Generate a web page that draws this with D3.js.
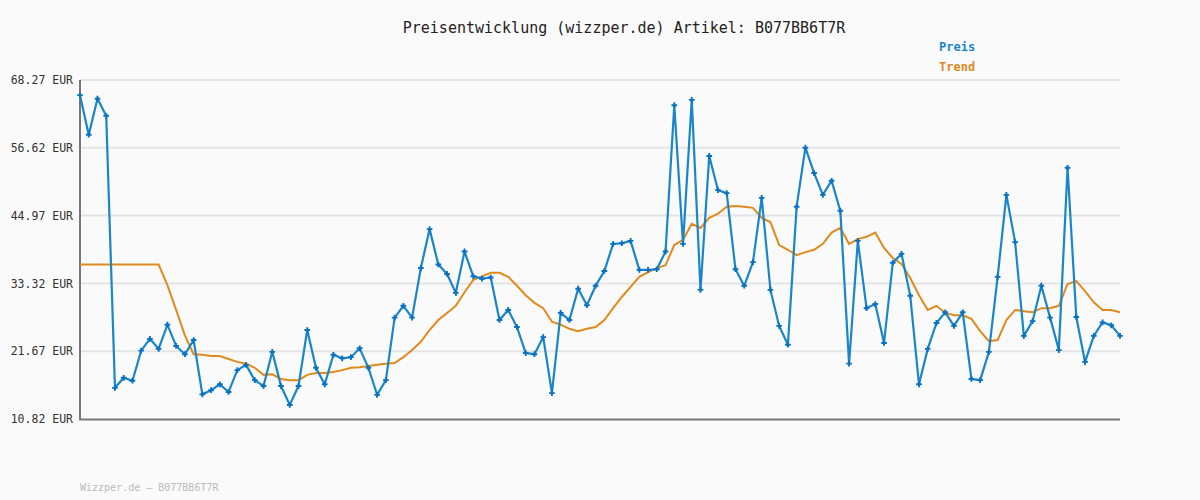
<!DOCTYPE html>
<html><head><meta charset="utf-8">
<script src="https://cdn.jsdelivr.net/npm/d3@7"></script>
<style>body{margin:0;background:#fafafa}svg{display:block}</style></head>
<body><svg id="c" width="1200" height="500"></svg>
<script>
const yTicks = [10.82, 22.31, 33.8, 45.29, 56.78, 68.27];
const yTickLabels = ["10.82 EUR","21.67 EUR","33.32 EUR","44.97 EUR","56.62 EUR","68.27 EUR"];
const preis = [65.7,59.0,65.1,62.2,16.1,17.8,17.3,22.4,24.4,22.7,26.8,23.2,21.8,24.2,15.0,15.7,16.7,15.4,19.1,20.0,
17.4,16.4,22.2,16.4,13.2,16.4,25.9,19.5,16.7,21.7,21.1,21.3,22.8,19.5,14.9,17.4,28.0,30.0,28.0,36.4,
43.0,37.0,35.4,32.2,39.2,35.0,34.6,34.8,27.6,29.3,26.4,22.0,21.8,24.7,15.2,28.8,27.6,32.9,30.1,33.4,
35.9,40.5,40.6,41.0,36.1,36.1,36.2,39.2,64.0,40.5,64.9,32.7,55.4,49.6,49.1,36.2,33.4,37.4,48.3,32.7,
26.6,23.4,46.8,56.8,52.5,48.8,51.2,46.1,20.2,41.0,29.6,30.3,23.7,37.3,38.8,31.7,16.7,22.7,27.1,28.9,
26.6,28.9,17.6,17.4,22.2,34.9,48.8,40.8,24.9,27.4,33.4,28.0,22.5,53.4,28.1,20.5,24.9,27.2,26.7,24.9];
const trend = [37.0,37.0,37.0,37.0,37.0,37.0,37.0,37.0,37.0,37.0,
33.5,29.3,25.0,21.8,21.7,21.5,21.5,21.0,20.5,20.2,
19.5,18.3,18.4,17.6,17.4,17.4,18.3,18.6,18.6,18.8,
19.1,19.5,19.6,19.8,20.0,20.2,20.3,21.3,22.5,23.9,
25.9,27.6,28.8,30.0,32.3,34.4,35.0,35.6,35.6,34.9,
33.4,31.8,30.5,29.6,27.3,26.8,26.1,25.7,26.1,26.4,
27.6,29.6,31.5,33.2,34.9,35.7,36.4,36.9,40.3,41.2,
43.9,43.2,44.9,45.6,46.8,46.9,46.8,46.6,44.9,44.2,
40.3,39.5,38.6,39.1,39.5,40.5,42.4,43.2,40.5,41.3,
41.7,42.4,39.8,38.1,37.1,34.7,31.8,29.3,30.0,28.8,
28.4,28.4,27.8,25.7,24.0,24.2,27.6,29.3,29.1,28.9,
29.6,29.6,30.0,33.7,34.2,32.5,30.6,29.3,29.3,28.9];

const svg = d3.select("#c");
const font = "'DejaVu Sans Mono', monospace";
svg.append("rect").attr("width",1200).attr("height",500).attr("fill","#fafafa");
const x = d3.scaleLinear().domain([0, preis.length-1]).range([80,1120]);
const y = d3.scaleLinear().domain([10.82,68.27]).range([419,80]);

svg.append("g").selectAll("line").data(yTicks.slice(1)).join("line")
  .attr("x1",80).attr("x2",1120).attr("y1",d=>y(d)).attr("y2",d=>y(d))
  .attr("stroke","#e4e4e4").attr("stroke-width",2);

const ax = d3.axisLeft(y).tickValues(yTicks).tickFormat((d,i)=>yTickLabels[i]).tickSize(0).tickPadding(7);
const g = svg.append("g").attr("transform","translate(80,0)").call(ax);
g.select(".domain").remove();
g.selectAll("text").attr("font-family",font).attr("font-size",11.5).attr("fill","#333");

svg.append("line").attr("x1",80).attr("x2",80).attr("y1",80).attr("y2",420).attr("stroke","#777").attr("stroke-width",2);
svg.append("line").attr("x1",79).attr("x2",1120).attr("y1",419.5).attr("y2",419.5).attr("stroke","#777").attr("stroke-width",2);

const line = d3.line().x((d,i)=>x(i)).y(d=>y(d));
svg.append("path").datum(trend).attr("d",line).attr("fill","none").attr("stroke","#e08a1e").attr("stroke-width",2);
svg.append("path").datum(preis).attr("d",line).attr("fill","none").attr("stroke","#1a86c8").attr("stroke-width",2.2);
svg.append("g").selectAll("path").data(preis).join("path")
  .attr("d",d3.symbol(d3.symbolCross,18)).attr("transform",(d,i)=>`translate(${x(i)},${y(d)})`).attr("fill","#0a70c0");

svg.append("text").attr("x",624).attr("y",33).attr("text-anchor","middle").attr("font-family",font)
  .attr("font-size",15).attr("fill","#222").text("Preisentwicklung (wizzper.de) Artikel: B077BB6T7R");
svg.append("text").attr("x",939).attr("y",51).attr("font-family",font).attr("font-weight","bold")
  .attr("font-size",12).attr("fill","#1a86c8").text("Preis");
svg.append("text").attr("x",939).attr("y",71).attr("font-family",font).attr("font-weight","bold")
  .attr("font-size",12).attr("fill","#e08a1e").text("Trend");
svg.append("text").attr("x",80).attr("y",491).attr("font-family",font)
  .attr("font-size",10).attr("fill","#bbb").text("Wizzper.de – B077BB6T7R");
</script></body></html>
